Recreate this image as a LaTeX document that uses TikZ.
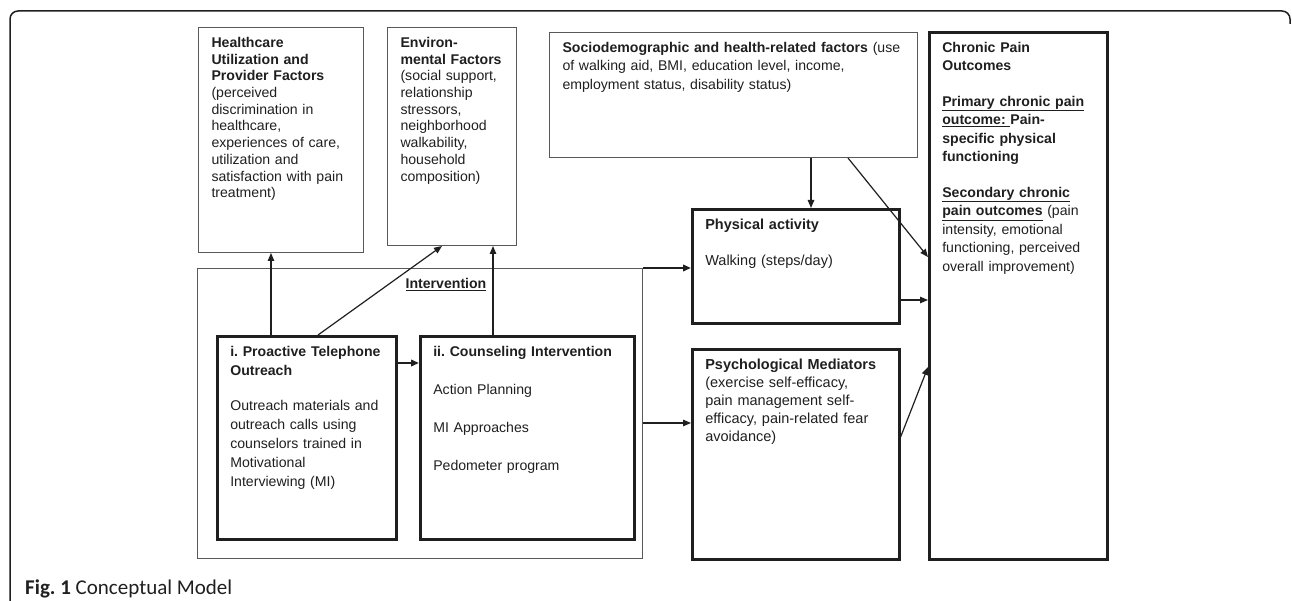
\documentclass[tikz,border=0pt]{standalone}
\usepackage{fontspec}
\setmainfont{Liberation Sans}
\newfontfamily\capfont{Carlito}
\usetikzlibrary{arrows.meta}
\definecolor{boxgray}{gray}{0.35}
\definecolor{inkdark}{gray}{0.12}
\frenchspacing

\begin{document}
\begin{tikzpicture}[x=1pt,y=-1pt,
  thinbox/.style={draw=boxgray,line width=1pt,anchor=north west,align=left,
    inner xsep=13pt,inner ysep=10pt,text height=10pt,text=inkdark},
  thickbox/.style={thinbox,draw=inkdark,line width=2.6pt},
  tightfont/.style={font=\fontsize{14.1}{16.7}\selectfont},
  midfont/.style={font=\fontsize{14.1}{18.5}\selectfont},
  widefont/.style={font=\fontsize{14.1}{19}\selectfont},
  bigfont/.style={font=\fontsize{14.5}{18}\selectfont},
  arr/.style={-{Triangle[length=8pt,width=6.5pt]},line width=1.2pt,draw=inkdark}]
  \useasboundingbox (0,0) rectangle (1292,601);
  % outer frame
  \draw[line width=1.5pt,draw=inkdark,rounded corners=8pt] (10,601) -- (10,11) -- (1290,11) -- (1290,24);
  % top row
  \node[thinbox,tightfont,text width=139pt,text depth=195pt] (hcare) at (198,27)
    {\textbf{Healthcare}\\\textbf{Utilization and}\\\textbf{Provider Factors}\\(perceived\\discrimination in\\healthcare,\\experiences of care,\\utilization and\\satisfaction with pain\\treatment)};
  \node[thinbox,tightfont,text width=103pt,text depth=188pt] (envir) at (387,27)
    {\textbf{Environ-}\\\textbf{mental Factors}\\(social support,\\relationship\\stressors,\\neighborhood\\walkability,\\household\\composition)};
  \node[thinbox,midfont,text width=342pt,text depth=95pt] (socio) at (549,32)
    {\textbf{Sociodemographic and health-related factors} (use\\of walking aid, BMI, education level, income,\\employment status, disability status)};
  \node[thickbox,midfont,text width=152pt,text depth=497pt] (chronic) at (928,31)
    {\textbf{Chronic Pain}\\\textbf{Outcomes}\\[17pt]\underline{\textbf{Primary chronic pain}}\\\textbf{\underline{outcome:\ }Pain-}\\\textbf{specific physical}\\\textbf{functioning}\\[17pt]\underline{\textbf{Secondary chronic}}\\\underline{\textbf{pain outcomes}} (pain\\intensity, emotional\\functioning, perceived\\overall improvement)};
  % mediators
  \node[thickbox,bigfont,text width=181pt,text depth=84pt] (phys) at (691,208)
    {\textbf{Physical activity}\\[18pt]Walking (steps/day)};
  \node[thickbox,bigfont,text width=181pt,text depth=180pt] (psych) at (691,348)
    {\textbf{Psychological Mediators}\\(exercise self-efficacy,\\pain management self-\\efficacy, pain-related fear\\avoidance)};
  % intervention
  \node[draw=boxgray,line width=1pt,anchor=north west,inner sep=0pt,
    minimum width=445pt,minimum height=290pt] (interv) at (197,268) {};
  \node[anchor=base,widefont,text=inkdark] (intlabel) at (446,289) {\underline{\textbf{Intervention}}};
  \node[thickbox,widefont,text width=153pt,text depth=173pt] (outreach) at (216,335)
    {\textbf{i. Proactive Telephone}\\\textbf{Outreach}\\[16pt]Outreach materials and\\outreach calls using\\counselors trained in\\Motivational\\Interviewing (MI)};
  \node[thickbox,widefont,text width=188pt,text depth=173pt] (counsel) at (419,335)
    {\textbf{ii. Counseling Intervention}\\[19pt]Action Planning\\[19pt]MI Approaches\\[19pt]Pedometer program};
  % caption
  \node[anchor=base west,inner sep=0pt,font=\capfont\fontsize{21}{25}\selectfont,text=inkdark] (caption) at (25,594)
    {\textbf{Fig. 1} Conceptual Model};
  % connector ends
  \coordinate (hcfoot) at ([xshift=55pt]outreach.north west);
  \coordinate (envslant) at ([xshift=102pt]outreach.north west);
  \coordinate (envfoot) at ([xshift=74pt]counsel.north west);
  \coordinate (telout) at ([yshift=-28pt]outreach.north east);
  \coordinate (intout) at ([yshift=-155pt]interv.north east);
  \coordinate (sociodown) at ([xshift=262pt]socio.south west);
  \coordinate (socioslant) at ([xshift=299pt]socio.south west);
  \coordinate (physout) at ([yshift=-92pt]phys.north east);
  \coordinate (psychout) at ([yshift=-89pt]psych.north east);
  % connectors
  \draw[arr] (hcfoot) -- (hcfoot |- hcare.south);
  \draw[arr] (envslant) -- ([xshift=55pt]envir.south west);
  \draw[arr] (envfoot) -- (envfoot |- envir.south);
  \draw[arr,line width=2.2pt] (telout) -- (telout -| counsel.west);
  \draw[arr,line width=2pt] (interv.north east) -- (interv.north east -| phys.west);
  \draw[arr] (intout) -- (intout -| psych.west);
  \draw[arr] (sociodown) -- (sociodown |- phys.north);
  \draw[arr] (socioslant) -- ([yshift=-226pt]chronic.north west);
  \draw[arr] (physout) -- (physout -| chronic.west);
  \draw[arr] (psychout) -- ([yshift=-336pt]chronic.north west);
\end{tikzpicture}
\end{document}
